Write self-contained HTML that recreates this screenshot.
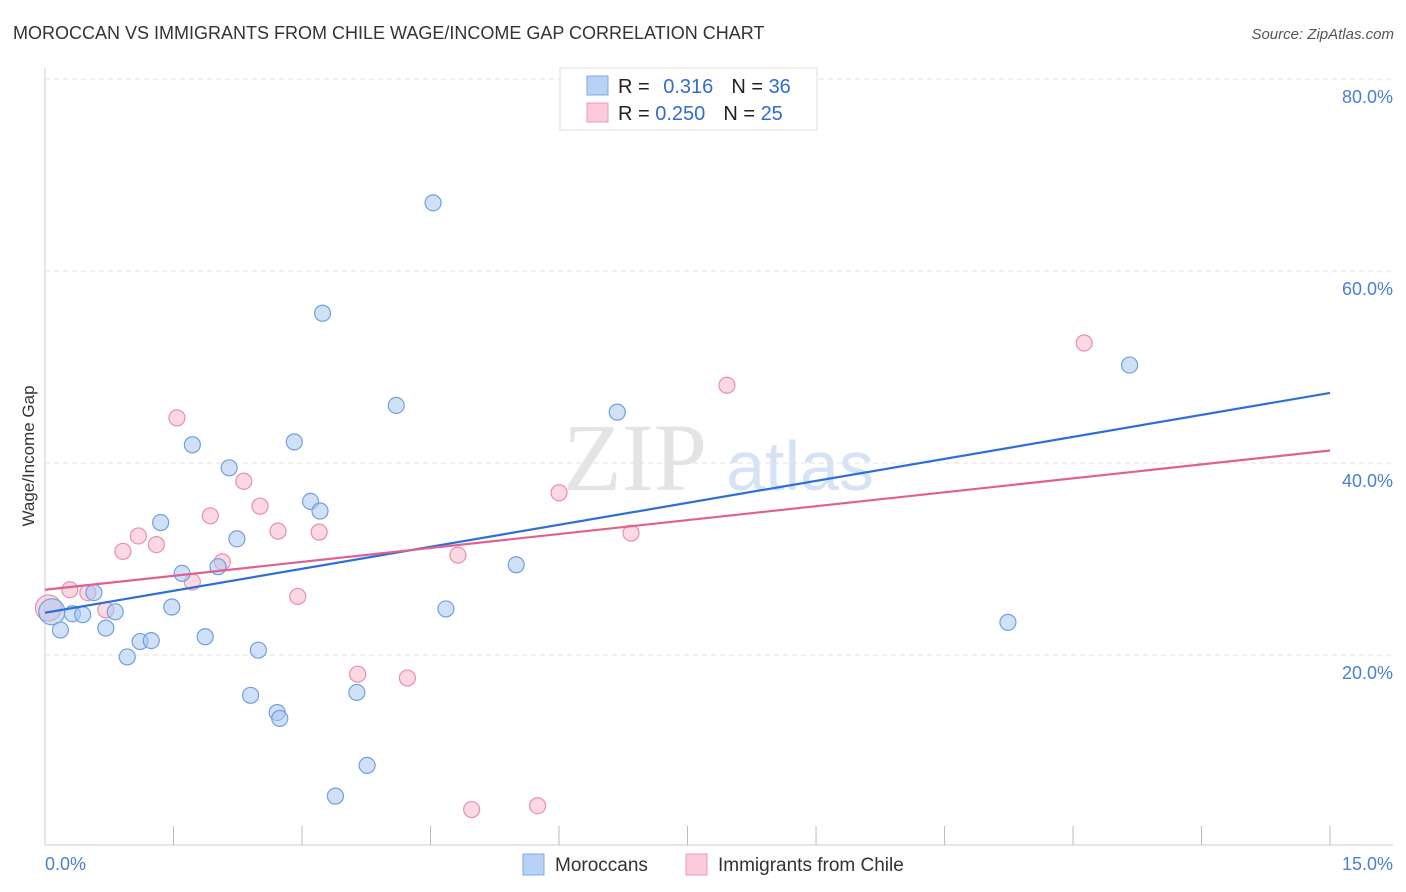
<!DOCTYPE html>
<html><head><meta charset="utf-8"><style>
body{margin:0;background:#fff;font-family:"Liberation Sans",sans-serif;}
svg{display:block}
</style></head><body>
<svg id="c" width="1406" height="892" xmlns="http://www.w3.org/2000/svg">
<text x="13" y="39" font-size="18" fill="#333">MOROCCAN VS IMMIGRANTS FROM CHILE WAGE/INCOME GAP CORRELATION CHART</text>
<text x="1394" y="39" font-size="15" fill="#555" font-style="italic" text-anchor="end">Source: ZipAtlas.com</text>
<text x="635" y="490" font-size="96" fill="#e4e4e4" font-family="Liberation Serif,serif" text-anchor="middle">ZIP</text>
<text x="800" y="490" font-size="70" fill="#d6e3f5" text-anchor="middle">atlas</text>
<text transform="translate(34,456) rotate(-90)" font-size="17" fill="#333" text-anchor="middle">Wage/Income Gap</text>
<g id="grid"></g><g id="pts"></g><g id="lines"></g>
<g>
<rect x="560" y="68" width="257" height="62" fill="#fff" stroke="#ddd"/>
<rect x="587" y="76" width="21" height="19" fill="#b8d2f5" stroke="#7ea9e4"/>
<rect x="587" y="103" width="21" height="19" fill="#fbcbd9" stroke="#ee9ab4"/>
<text x="618" y="93" font-size="20" fill="#222">R = <tspan fill="#2f6dd0" dx="8">0.316</tspan><tspan dx="18" fill="#222">N = </tspan><tspan fill="#2f6dd0">36</tspan></text>
<text x="618" y="120" font-size="20" fill="#222">R = <tspan fill="#2f6dd0">0.250</tspan><tspan dx="18" fill="#222">N = </tspan><tspan fill="#2f6dd0">25</tspan></text>
</g>
<g>
<rect x="523" y="854" width="21" height="21" fill="#b8d2f5" stroke="#7ea9e4"/>
<text x="555" y="871" font-size="19" fill="#333">Moroccans</text>
<rect x="686" y="854" width="21" height="21" fill="#fbcbd9" stroke="#ee9ab4"/>
<text x="718" y="871" font-size="19" fill="#333">Immigrants from Chile</text>
</g>
</svg>
<script>
const blueX=[0.08,0.18,0.32,0.44,0.57,0.71,0.82,0.96,1.11,1.24,1.35,1.48,1.60,1.72,1.87,2.02,2.15,2.24,2.40,2.49,2.71,2.74,2.91,3.10,3.21,3.24,3.39,3.64,3.76,4.10,4.53,4.68,5.50,6.68,11.24,12.66];
const blueY=[24.5,22.6,24.3,24.2,26.5,22.8,24.5,19.8,21.4,21.5,33.8,25.0,28.5,41.9,21.9,29.2,39.5,32.1,15.8,20.5,14.0,13.4,42.2,36.0,35.0,55.6,5.3,16.1,8.5,46.0,67.1,24.8,29.4,45.3,23.4,50.2];
const pinkX=[0.04,0.29,0.50,0.71,0.91,1.09,1.30,1.54,1.72,1.93,2.07,2.32,2.51,2.72,2.95,3.20,3.65,4.23,4.82,4.98,5.75,6.00,6.84,7.96,12.13];
const pinkY=[24.9,26.8,26.5,24.7,30.8,32.4,31.5,44.7,27.6,34.5,29.7,38.1,35.5,32.9,26.1,32.8,18.0,17.6,30.4,3.9,4.3,36.9,32.7,48.1,52.5];
const blueTrend=[24.4,47.3];
const pinkTrend=[26.8,41.3];
const yTicks=[20,40,60,80];
const xTickLabels=["0.0%","15.0%"];
const NS="http://www.w3.org/2000/svg";
const sx=v=>45+v*85.67, sy=v=>847-v*9.6;
function mk(t,a,p){const e=document.createElementNS(NS,t);for(const k in a)e.setAttribute(k,a[k]);p.appendChild(e);return e;}
const grid=document.getElementById('grid'),pts=document.getElementById('pts'),lines=document.getElementById('lines');
yTicks.forEach(v=>{
 const l=mk('line',{x1:45,x2:1393,y1:sy(v),y2:sy(v),stroke:'#e2e2e2','stroke-dasharray':'5,4'},grid);
 
 
 const t=mk('text',{x:1393,y:sy(v)+24,'font-size':18,fill:'#4a7fd4','text-anchor':'end'},grid);t.textContent=v.toFixed(1)+'%';
 
 
});
mk('line',{x1:45,x2:1393,y1:845,y2:845,stroke:'#ccc'},grid);
mk('line',{x1:45,x2:45,y1:68,y2:845,stroke:'#ccc'},grid);
for(let i=1;i<=10;i++){const l=mk('line',{x1:sx(i*1.5),x2:sx(i*1.5),y1:826,y2:845,stroke:'#bbb'},grid);
 
 }
const t0=mk('text',{x:45,y:870,'font-size':18,fill:'#4a7fd4'},grid);t0.textContent=xTickLabels[0];


const t1=mk('text',{x:1393,y:870,'font-size':18,fill:'#4a7fd4','text-anchor':'end'},grid);t1.textContent=xTickLabels[1];


function draw(X,Y,fill,stroke,name){X.forEach((x,i)=>{const c=mk('circle',{cx:sx(x),cy:sy(Y[i]),r:i===0?13:8,fill:fill,'fill-opacity':0.55,stroke:stroke,'stroke-width':1.2},pts);
 
 });}
draw(pinkX,pinkY,'#f8b8cc','#e890aa','point-chile');
draw(blueX,blueY,'#a9c8f0','#6fa0e0','point-moroccans');
const bl=mk('line',{x1:sx(0),x2:sx(15),y1:sy(blueTrend[0]),y2:sy(blueTrend[1]),stroke:'#2d6fd8','stroke-width':2.2},lines);


const pl=mk('line',{x1:sx(0),x2:sx(15),y1:sy(pinkTrend[0]),y2:sy(pinkTrend[1]),stroke:'#e06090','stroke-width':2.2},lines);


</script>
</body></html>
